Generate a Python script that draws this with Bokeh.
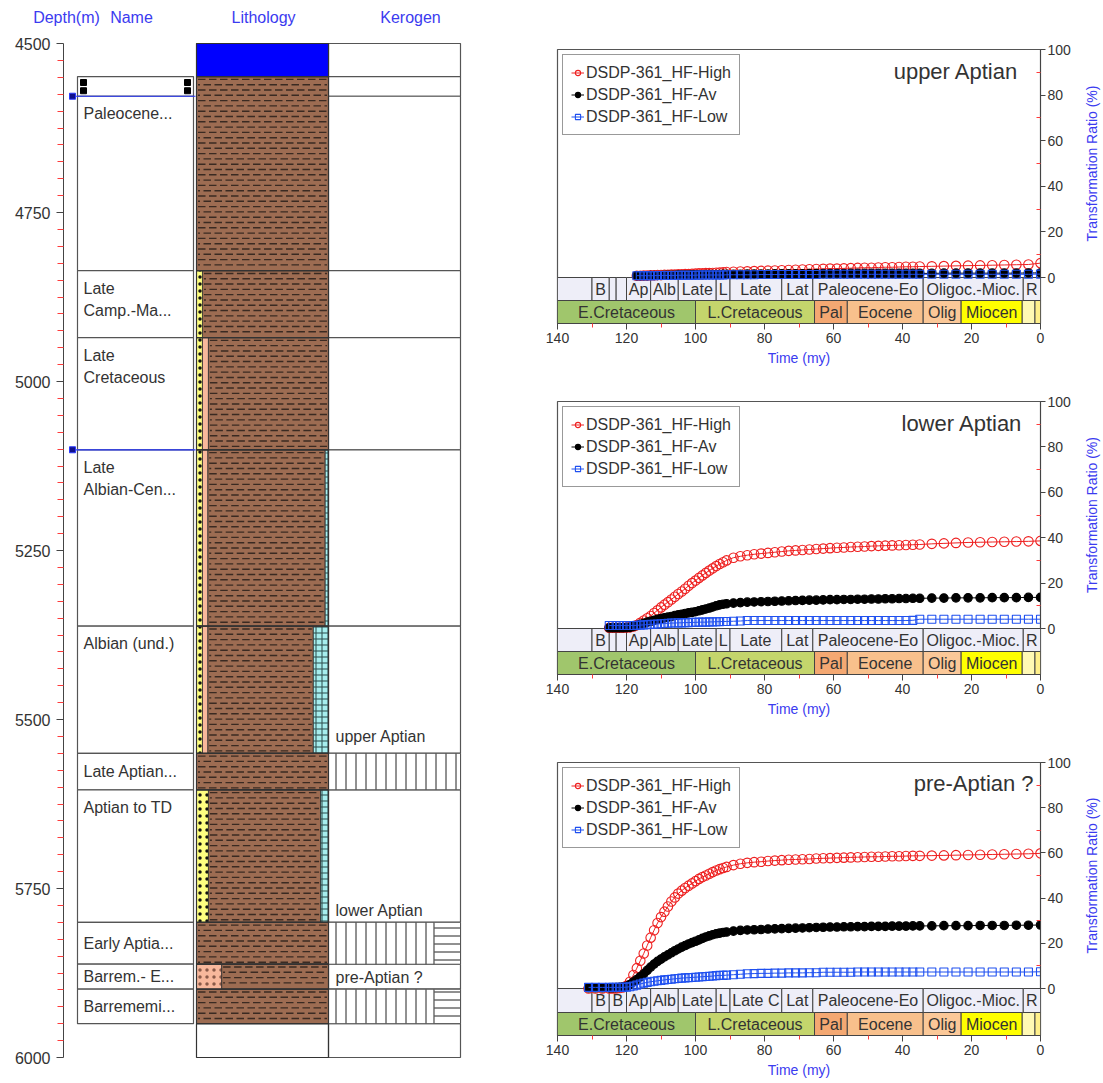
from bokeh.plotting import figure
from bokeh.models import Range1d, FixedTicker, Label, Legend, LegendItem, ColumnDataSource
from bokeh.layouts import row, column
from bokeh.embed import file_html
from bokeh.resources import INLINE
from bokeh.core.properties import value

FONT = "Liberation Sans"
INK = "#333333"
HEAD_BLUE = "#3b3bf0"
TICK_RED = "#ff3b3b"
EDGE = "#555555"

# ---------------- well section (depth in m) ----------------
DEPTH_TICKS = [4500, 4750, 5000, 5250, 5500, 5750, 6000]
HEADERS = ["Depth(m)", "Name", "Lithology", "Kerogen"]

name_top = [4549, 4578, 4836, 4935, 5101, 5362, 5550, 5604, 5800, 5862, 5899]
name_base = [4578, 4836, 4935, 5101, 5362, 5550, 5604, 5800, 5862, 5899, 5950]
name_text = ["", "Paleocene...", "Late\nCamp.-Ma...", "Late\nCretaceous",
             "Late\nAlbian-Cen...", "Albian (und.)", "Late Aptian...", "Aptian to TD",
             "Early Aptia...", "Barrem.- E...", "Barrememi..."]
horizon_depth = [4578, 5101]

lith_top = [4500, 4549, 4836, 4935, 5101, 5362, 5550, 5604, 5800, 5862, 5899, 5950]
lith_base = [4549, 4836, 4935, 5101, 5362, 5550, 5604, 5800, 5862, 5899, 5950, 6000]
lith_mix = [
    [("water", 1.0)],
    [("shale", 1.0)],
    [("sand", 0.045), ("shale", 0.955)],
    [("sand", 0.045), ("silt", 0.045), ("shale", 0.91)],
    [("sand", 0.045), ("silt", 0.04), ("shale", 0.89), ("lime", 0.025)],
    [("sand", 0.045), ("silt", 0.04), ("shale", 0.80), ("lime", 0.115)],
    [("shale", 1.0)],
    [("sand", 0.09), ("shale", 0.85), ("lime", 0.06)],
    [("shale", 1.0)],
    [("siltdot", 0.19), ("shale", 0.81)],
    [("shale", 1.0)],
    [],
]

kerogen_top = [4500, 4549, 4578, 4836, 4935, 5101, 5362, 5550, 5604, 5800, 5862, 5899, 5950]
kerogen_base = [4549, 4578, 4836, 4935, 5101, 5362, 5550, 5604, 5800, 5862, 5899, 5950, 6000]
kerogen_kind = ["", "", "", "", "", "", "", "vert", "", "mixed", "", "mixed", ""]

sample_depth = [5525, 5782, 5881]
sample_name = ["upper Aptian", "lower Aptian", "pre-Aptian ?"]

# ---------------- burial-history results (time in Ma, TR in %) ----------------
TIME = [131, 129, 127,
        125, 124, 123, 122, 121, 120, 119, 118, 117, 116, 115, 114, 113, 112, 111, 110,
        109, 108, 107, 106, 105, 104, 103, 102, 101, 100, 99, 98, 97, 96, 95, 94, 93, 92, 91,
        89, 87, 85, 83, 81, 79, 77, 75, 73, 71, 69, 67, 65, 63, 61, 59, 57, 55, 53, 51,
        49, 47, 45, 43, 41, 39, 37, 35,
        31.5, 28, 24.5, 21, 17.5, 14, 10.5, 7, 3.5, 0]

UP_HIGH = [0.8, 0.8, 0.9, 0.9, 1.0, 1.0, 1.1, 1.1, 1.2, 1.2, 1.3, 1.3, 1.4, 1.4, 1.5, 1.5,
           1.6, 1.7, 1.8, 1.8, 1.9, 1.9, 2.0, 2.1, 2.2, 2.3, 2.4,
           2.5, 2.6, 2.7, 2.8, 2.9, 3.0, 3.1, 3.2, 3.3, 3.4, 3.5, 3.6, 3.7, 3.8, 3.9, 3.9,
           4.0, 4.1, 4.2, 4.3, 4.3, 4.4, 4.5, 4.5, 4.6, 4.7, 4.7, 4.8,
           4.9, 5.0, 5.1, 5.2, 5.3, 5.4, 5.5, 5.6, 5.7, 6.3]
UP_AV = [0.8, 0.8, 0.8, 0.8, 0.9, 0.9, 0.9, 0.9, 1.0, 1.0, 1.0, 1.0, 1.1, 1.1, 1.1, 1.1,
         1.2, 1.2, 1.2, 1.2, 1.3, 1.3, 1.3, 1.3, 1.3, 1.4, 1.4,
         1.4, 1.4, 1.5, 1.5, 1.5, 1.5, 1.6, 1.6, 1.6, 1.6, 1.6, 1.7, 1.7, 1.7, 1.7, 1.7,
         1.7, 1.8, 1.8, 1.8, 1.8, 1.8, 1.8, 1.8, 1.8, 1.8, 1.8, 1.8,
         1.8, 1.9, 1.9, 1.9, 1.9, 1.9, 1.9, 1.9, 2.0, 2.0]
UP_LOW = [0.8, 0.8, 0.8, 0.8, 0.8, 0.8, 0.9, 0.9, 0.9, 0.9, 0.9, 0.9, 1.0, 1.0, 1.0, 1.0,
          1.0, 1.0, 1.1, 1.1, 1.1, 1.1, 1.1, 1.1, 1.1, 1.1, 1.2,
          1.2, 1.2, 1.2, 1.2, 1.3, 1.3, 1.3, 1.3, 1.3, 1.3, 1.3, 1.3, 1.3, 1.4, 1.4, 1.4,
          1.4, 1.4, 1.4, 1.4, 1.4, 1.4, 1.4, 1.4, 1.4, 1.4, 1.4, 1.4,
          1.4, 1.4, 1.4, 1.4, 1.4, 1.4, 1.4, 1.4, 1.4, 1.5]

LOW_HIGH = [0.3, 0.3, 0.3, 0.3, 0.3, 0.4, 0.5, 0.9, 1.5, 2.5, 3.5, 4.5, 5.5, 6.8, 8.0, 9.3,
            10.5, 11.6, 12.8, 14.0, 15.2, 16.3, 17.5, 18.8, 20.0, 21.1, 22.3, 23.4, 24.5,
            25.5, 26.5, 27.5, 28.4, 29.2, 30.0,
            31.2, 31.8, 32.3, 32.7, 33.0, 33.3, 33.6, 33.9, 34.2, 34.4, 34.6, 34.8, 35.0,
            35.2, 35.4, 35.6, 35.7, 35.9, 36.0, 36.1, 36.3, 36.4, 36.5, 36.6, 36.7, 36.8,
            36.9, 37.0,
            37.3, 37.5, 37.7, 37.9, 38.0, 38.1, 38.2, 38.3, 38.4, 38.6]
LOW_AV = [0.3, 0.3, 0.3, 0.3, 0.3, 0.4, 0.5, 0.9, 1.3, 1.8, 2.3, 2.8, 3.2, 3.6, 4.0, 4.4,
          4.7, 5.0, 5.3, 5.7, 6.0, 6.3, 6.6, 6.9, 7.1, 7.4, 7.8, 8.2, 8.6, 9.0, 9.5, 10.0,
          10.4, 10.7, 10.9,
          11.2, 11.4, 11.6, 11.7, 11.8, 11.9, 12.0, 12.1, 12.2, 12.3, 12.4, 12.5, 12.5,
          12.6, 12.7, 12.7, 12.8, 12.8, 12.9, 12.9, 13.0, 13.0, 13.1, 13.1, 13.2, 13.2,
          13.3, 13.3,
          13.4, 13.4, 13.5, 13.5, 13.5, 13.6, 13.6, 13.6, 13.7, 13.7]
LOW_LOW = [1.3, 1.3, 1.3, 1.3, 1.3, 1.3, 1.3, 1.3, 1.4, 1.5, 1.6, 1.7, 1.8, 1.9, 2.0, 2.1,
           2.2, 2.3, 2.4, 2.4, 2.5, 2.5, 2.6, 2.6, 2.7, 2.7, 2.8, 2.8, 2.8, 2.9, 2.9, 3.0,
           3.0, 3.1, 3.1,
           3.2, 3.3, 3.5, 3.5, 3.5, 3.5, 3.5, 3.5, 3.5, 3.5, 3.5, 3.5, 3.5, 3.5, 3.5, 3.5,
           3.5, 3.5, 3.5, 3.5, 3.5, 3.5, 3.5, 3.5, 3.5, 3.5, 3.6, 4.1,
           4.1, 4.1, 4.1, 4.1, 4.1, 4.1, 4.1, 4.1, 4.1, 4.1]

PRE_HIGH = [0, 0, 0,
            0, 0, 0, 0.2, 0.5, 1.2, 3.0, 6.0, 9.0, 12.3, 15.5, 19.0, 22.5, 25.8, 29.0, 31.6,
            34.0, 36.3, 38.5, 40.3, 42.0, 43.3, 44.5, 45.5, 46.5, 47.5, 48.5, 49.3, 50.0,
            50.8, 51.5, 52.2, 52.8, 53.3, 53.8,
            54.6, 55.2, 55.6, 55.9, 56.1, 56.4, 56.6, 56.8, 57.0, 57.1, 57.2, 57.3, 57.5,
            57.6, 57.7, 57.8, 57.9, 58.0, 58.1, 58.2, 58.3, 58.3, 58.4, 58.5, 58.5, 58.6,
            58.7, 58.7,
            58.8, 58.9, 59.0, 59.1, 59.2, 59.3, 59.4, 59.5, 59.6, 59.8]
PRE_AV = [0.3, 0.3, 0.3,
          0.3, 0.3, 0.4, 0.5, 0.6, 1.0, 1.8, 2.9, 4.0, 5.2, 6.5, 8.0, 9.5, 10.8, 12.0, 13.0,
          14.0, 14.9, 15.8, 16.7, 17.5, 18.3, 19.0, 19.7, 20.3, 20.9, 21.5, 22.2, 22.8,
          23.3, 23.8, 24.2, 24.5, 24.8, 25.0,
          25.4, 25.7, 25.9, 26.0, 26.1, 26.3, 26.4, 26.5, 26.6, 26.7, 26.8, 26.9, 27.0,
          27.1, 27.2, 27.2, 27.3, 27.3, 27.4, 27.4, 27.5, 27.5, 27.5, 27.6, 27.6, 27.6,
          27.7, 27.7,
          27.7, 27.8, 27.8, 27.8, 27.9, 27.9, 27.9, 28.0, 28.0, 28.1]
PRE_LOW = [0.5, 0.5, 0.5,
           0.5, 0.5, 0.5, 0.5, 0.5, 0.6, 0.8, 1.1, 1.5, 2.0, 2.4, 2.7, 3.0, 3.2, 3.4, 3.6,
           3.8, 4.0, 4.1, 4.3, 4.4, 4.6, 4.7, 4.8, 4.9, 5.0, 5.1, 5.2, 5.3, 5.4, 5.5, 5.7,
           5.8, 5.8, 5.9,
           6.1, 6.3, 6.5, 6.6, 6.7, 6.7, 6.8, 6.8, 6.9, 6.9, 6.9, 7.0, 7.0, 7.2, 7.2, 7.2,
           7.2, 7.2, 7.3, 7.3, 7.3, 7.3, 7.3, 7.3, 7.3, 7.3, 7.3, 7.3,
           7.3, 7.3, 7.3, 7.3, 7.3, 7.3, 7.3, 7.3, 7.3, 7.4]

SERIES_NAMES = ["DSDP-361_HF-High", "DSDP-361_HF-Av", "DSDP-361_HF-Low"]
Y_TITLE = "Transformation Ratio (%)"
X_TITLE = "Time (my)"

# geologic time scale strip (Ma)
STAGE_EDGES_A = [140, 130, 125, 123, 120, 113, 105, 94, 90, 75, 66, 34, 5, 0]
STAGE_NAMES_A = ["", "B", "", "", "Ap", "Alb", "Late", "L", "Late", "Lat",
                 "Paleocene-Eo", "Oligoc.-Mioc.", "R"]
STAGE_EDGES_B = [140, 130, 125, 120, 113, 105, 94, 90, 75, 66, 34, 5, 0]
STAGE_NAMES_B = ["", "B", "B", "Ap", "Alb", "Late", "L", "Late C", "Lat",
                 "Paleocene-Eo", "Oligoc.-Mioc.", "R"]
EPOCH_EDGES = [140, 100, 65.5, 56, 34, 23, 5.3, 1.6, 0]
EPOCH_NAMES = ["E.Cretaceous", "L.Cretaceous", "Pal", "Eocene", "Olig", "Miocen", "", ""]
EPOCH_COLORS = ["#a0c66c", "#c4d56c", "#f4a872", "#f8c08c", "#fbc898", "#ffff00",
                "#fff9b4", "#fff08a"]

# ======================= well column =======================
PX_PER_M = 0.676
TOP_PX = 43          # screen row of 4500 m
HEAD_H = 35          # header strip height
CANVAS_H = 1083
LEFT_W = 520


def depth_at(ypx):
    return 4500 + (ypx - TOP_PX) / PX_PER_M


def no_frame_align(fig):
    try:
        fig.frame_align = False
    except Exception:
        pass


X_NAME = (77, 193)
X_LITH = (196, 328)
X_KER = (328, 460)

# header strip
head = figure(width=LEFT_W, height=HEAD_H, x_range=Range1d(0, LEFT_W),
              y_range=Range1d(HEAD_H, 0), x_axis_type=None, y_axis_type=None,
              toolbar_location=None, output_backend="svg", min_border=0)
no_frame_align(head)
head.outline_line_color = None
head.grid.visible = False
head.text(x=[66, 131, 263, 410], y=17, text=HEADERS, text_align="center",
          text_baseline="middle", text_font=value(FONT), text_font_size="16px",
          text_color=HEAD_BLUE)

well = figure(width=LEFT_W, height=CANVAS_H - HEAD_H, x_range=Range1d(63, 462),
              y_range=Range1d(depth_at(CANVAS_H), depth_at(HEAD_H)), x_axis_type=None,
              toolbar_location=None, output_backend="svg",
              min_border_left=63, min_border_right=58, min_border_top=0, min_border_bottom=0)
no_frame_align(well)
well.outline_line_color = None
well.grid.visible = False

ax = well.yaxis[0]
ax.ticker = FixedTicker(ticks=DEPTH_TICKS,
                        minor_ticks=[d for d in range(4500, 6001, 25) if d % 250])
ax.bounds = (4500, 6000)
ax.axis_line_color = "#444444"
ax.major_tick_line_color = "#444444"
ax.major_tick_out = 7
ax.major_tick_in = 0
ax.minor_tick_line_color = TICK_RED
ax.minor_tick_out = 6
ax.minor_tick_in = 0
ax.major_label_text_font = FONT
ax.major_label_text_font_size = "16px"
ax.major_label_text_color = INK
ax.major_label_standoff = 6

# name column
well.quad(left=X_NAME[0], right=X_NAME[1], top=name_top, bottom=name_base,
          fill_color="white", line_color=EDGE, line_width=1.2)
nx, ny, nt, nb = [], [], [], []
for t, b, s in zip(name_top, name_base, name_text):
    if not s:
        continue
    if (b - t) * PX_PER_M < 60:
        ny.append((t + b) / 2)
        nb.append("middle")
    else:
        ny.append(t + 9 / PX_PER_M)
        nb.append("top")
    nx.append(X_NAME[0] + 6)
    nt.append(s)
well.text(x=nx, y=ny, text=nt, text_baseline=nb, text_align="left",
          text_font=value(FONT), text_font_size="16px", text_color=INK, text_line_height=1.3)

# small handles in the first name cell
h_top, h_base = name_top[0], name_base[0]
hy = [h_top + 0.3 * (h_base - h_top), h_top + 0.72 * (h_base - h_top)]
well.scatter(x=[X_NAME[0] + 6] * 2 + [X_NAME[1] - 6] * 2, y=hy + hy, marker="square",
             size=6, fill_color="black", line_color="black")

# picked horizons
well.segment(x0=X_NAME[0] - 4, x1=X_LITH[0] - 1, y0=horizon_depth, y1=horizon_depth,
             line_color="#2a3aff", line_width=1.2)
well.scatter(x=[X_NAME[0] - 5] * len(horizon_depth), y=horizon_depth, marker="square",
             size=6, fill_color="#10108a", line_color="#2a3aff")

# kerogen column
well.quad(left=X_KER[0], right=X_KER[1], top=kerogen_top, bottom=kerogen_base,
          fill_color="white", line_color=EDGE, line_width=1.2)
split_x = X_KER[0] + 0.8 * (X_KER[1] - X_KER[0])
vt, vb, vr, ht, hb = [], [], [], [], []
for t, b, k in zip(kerogen_top, kerogen_base, kerogen_kind):
    if k == "vert":
        vt.append(t); vb.append(b); vr.append(X_KER[1])
    elif k == "mixed":
        vt.append(t); vb.append(b); vr.append(split_x)
        ht.append(t); hb.append(b)
well.quad(left=X_KER[0], right=vr, top=vt, bottom=vb, fill_color="white", line_color=EDGE,
          hatch_pattern="|", hatch_color="#222222", hatch_scale=10, hatch_weight=1)
well.quad(left=split_x, right=X_KER[1], top=ht, bottom=hb, fill_color="white",
          line_color=EDGE, hatch_pattern="-", hatch_color="#222222", hatch_scale=8,
          hatch_weight=1)
well.text(x=[X_KER[0] + 7] * 3, y=sample_depth, text=sample_name, text_baseline="middle",
          text_align="left", text_font=value(FONT), text_font_size="16px", text_color=INK)

# lithology column
LITH_STYLE = {
    "water": dict(fill_color="#0000ff"),
    "shale": dict(fill_color="#9d6c52"),
    "sand": dict(fill_color="#ffff80", hatch_pattern=".", hatch_color="#111111",
                 hatch_scale=7, hatch_weight=1),
    "silt": dict(fill_color="#f8b89c"),
    "siltdot": dict(fill_color="#f8b89c", hatch_pattern=".", hatch_color="#8a5a48",
                    hatch_scale=7, hatch_weight=1),
    "lime": dict(fill_color="#a6eeee", hatch_pattern="+", hatch_color="#2a4a4a",
                 hatch_scale=6, hatch_weight=1),
}
pieces = {k: dict(left=[], right=[], top=[], bottom=[]) for k in LITH_STYLE}
lith_w = X_LITH[1] - X_LITH[0]
for t, b, mix in zip(lith_top, lith_base, lith_mix):
    x0 = X_LITH[0]
    for kind, frac in mix:
        x1 = x0 + frac * lith_w
        d = pieces[kind]
        d["left"].append(x0); d["right"].append(x1); d["top"].append(t); d["bottom"].append(b)
        x0 = x1
for kind, d in pieces.items():
    if d["left"]:
        well.quad(source=ColumnDataSource(d), left="left", right="right", top="top",
                  bottom="bottom", line_color="#2a2a2a", line_width=0.8, **LITH_STYLE[kind])

# shale symbol: staggered rows of short dashes (sizes in screen px)
ROW_PX, DASH_PX, PERIOD_PX = 5.3, 7.5, 11.0
dx0, dx1, dy = [], [], []
sh = pieces["shale"]
for l, r, t, b in zip(sh["left"], sh["right"], sh["top"], sh["bottom"]):
    k = 0
    ypx = 2.8
    while ypx < (b - t) * PX_PER_M - 1.5:
        xs = l + 1.5 - (k % 2) * PERIOD_PX / 2
        while xs < r - 1.5:
            xa, xb = max(xs, l + 1.5), min(xs + DASH_PX, r - 1.5)
            if xb - xa > 1.5:
                dx0.append(xa); dx1.append(xb); dy.append(t + ypx / PX_PER_M)
            xs += PERIOD_PX
        ypx += ROW_PX
        k += 1
well.segment(x0=dx0, x1=dx1, y0=dy, y1=dy, line_color="#3a2a22", line_width=1.4)

well.quad(left=X_LITH[0], right=X_LITH[1], top=lith_top, bottom=lith_base,
          fill_color=None, line_color="#333333", line_width=1.2)

# ======================= transformation-ratio charts =======================
STYLES = [
    dict(color="#ee2020", marker="circle", fill=None, size=9.5),
    dict(color="#000000", marker="circle", fill="#000000", size=8.5),
    dict(color="#1f50f0", marker="square", fill=None, size=8),
]
CHART_W = 559
SIDE_W = 24


def make_chart(title, values, stage_edges, stage_names, height, top_pad, plot_px,
               strip_px, title_x):
    ppu = plot_px / 100.0
    r1 = strip_px[0] / ppu
    r2 = strip_px[1] / ppu
    frame_h = plot_px + strip_px[0] + strip_px[1]
    p = figure(width=CHART_W, height=height, x_range=Range1d(140, 0),
               y_range=Range1d(-(r1 + r2), 100), y_axis_location="right",
               toolbar_location=None, output_backend="svg",
               min_border_left=37, min_border_right=39, min_border_top=top_pad,
               min_border_bottom=height - top_pad - frame_h)
    no_frame_align(p)
    p.grid.visible = False
    p.outline_line_color = EDGE
    p.outline_line_width = 1.2

    # time-scale strip
    p.quad(left=stage_edges[:-1], right=stage_edges[1:], top=0, bottom=-r1,
           fill_color="#eeeef8", line_color="#444444", line_width=1)
    p.text(x=[(a + b) / 2 for a, b in zip(stage_edges[:-1], stage_edges[1:])],
           y=-r1 / 2, text=stage_names, text_align="center", text_baseline="middle",
           text_font=value(FONT), text_font_size="16px", text_color=INK)
    p.quad(left=EPOCH_EDGES[:-1], right=EPOCH_EDGES[1:], top=-r1, bottom=-(r1 + r2),
           fill_color=EPOCH_COLORS, line_color="#444444", line_width=1)
    p.text(x=[(a + b) / 2 for a, b in zip(EPOCH_EDGES[:-1], EPOCH_EDGES[1:])],
           y=-r1 - r2 / 2, text=EPOCH_NAMES, text_align="center", text_baseline="middle",
           text_font=value(FONT), text_font_size="16px", text_color=INK)

    items = []
    for name, vals, st in zip(SERIES_NAMES, values, STYLES):
        t = TIME[-len(vals):]
        lr = p.line(t, vals, line_color=st["color"], line_width=1)
        sr = p.scatter(t, vals, marker=st["marker"], size=st["size"],
                       line_color=st["color"], fill_color=st["fill"], line_width=1.1)
        items.append(LegendItem(label=name, renderers=[lr, sr]))
    leg = Legend(items=items, location="top_left", margin=5, padding=8, spacing=3,
                 label_text_font=FONT, label_text_font_size="16px", label_text_color=INK,
                 glyph_width=13, glyph_height=19, label_height=19, label_standoff=2,
                 border_line_color="#333333", border_line_width=1.5,
                 background_fill_color="white", background_fill_alpha=1)
    p.add_layout(leg)

    p.add_layout(Label(x=title_x, y=90.5, text=title, text_align="right",
                       text_baseline="middle", text_font=FONT, text_font_size="22px",
                       text_color=INK))

    ya = p.yaxis[0]
    ya.ticker = FixedTicker(ticks=[0, 20, 40, 60, 80, 100], minor_ticks=[10, 30, 50, 70, 90])
    ya.bounds = (0, 100)
    ya.axis_line_color = "#444444"
    ya.major_tick_line_color = "#444444"
    ya.major_tick_out = 5
    ya.major_tick_in = 0
    ya.minor_tick_line_color = TICK_RED
    ya.minor_tick_out = 0
    ya.minor_tick_in = 4
    ya.major_label_text_font = FONT
    ya.major_label_text_font_size = "14px"
    ya.major_label_text_color = INK
    ya.major_label_standoff = 2

    xa = p.xaxis[0]
    xa.ticker = FixedTicker(ticks=[140, 120, 100, 80, 60, 40, 20, 0],
                            minor_ticks=[130, 110, 90, 70, 50, 30, 10])
    xa.axis_line_color = "#444444"
    xa.major_tick_line_color = "#444444"
    xa.major_tick_out = 6
    xa.major_tick_in = 0
    xa.minor_tick_line_color = TICK_RED
    xa.minor_tick_out = 4
    xa.minor_tick_in = 0
    xa.major_label_text_font = FONT
    xa.major_label_text_font_size = "14px"
    xa.major_label_text_color = INK
    xa.major_label_standoff = 3
    xa.axis_label = X_TITLE
    xa.axis_label_text_font = FONT
    xa.axis_label_text_font_size = "14px"
    xa.axis_label_text_font_style = "normal"
    xa.axis_label_text_color = HEAD_BLUE
    xa.axis_label_standoff = 4

    # narrow companion panel carrying the vertical y title, centred on 0..100
    side = figure(width=SIDE_W, height=height, x_range=Range1d(0, 1),
                  y_range=Range1d(0, 100), x_axis_type=None, toolbar_location=None,
                  output_backend="svg", min_border_left=SIDE_W - 2, min_border_right=0,
                  min_border_top=top_pad, min_border_bottom=height - top_pad - plot_px)
    no_frame_align(side)
    side.outline_line_color = None
    side.grid.visible = False
    sa = side.yaxis[0]
    sa.ticker = FixedTicker(ticks=[])
    sa.axis_line_color = None
    sa.major_tick_line_color = None
    sa.minor_tick_line_color = None
    sa.axis_label = Y_TITLE
    sa.axis_label_text_font = FONT
    sa.axis_label_text_font_size = "14px"
    sa.axis_label_text_font_style = "normal"
    sa.axis_label_text_color = HEAD_BLUE
    sa.axis_label_standoff = 2
    return row(p, side, spacing=0)


c1 = make_chart("upper Aptian", [UP_HIGH, UP_AV, UP_LOW], STAGE_EDGES_A, STAGE_NAMES_A,
                height=380, top_pad=49, plot_px=228, strip_px=(23, 23), title_x=6.4)
c2 = make_chart("lower Aptian", [LOW_HIGH, LOW_AV, LOW_LOW], STAGE_EDGES_A, STAGE_NAMES_A,
                height=360, top_pad=21, plot_px=227, strip_px=(23, 23), title_x=5.2)
c3 = make_chart("pre-Aptian ?", [PRE_HIGH, PRE_AV, PRE_LOW], STAGE_EDGES_B, STAGE_NAMES_B,
                height=343, top_pad=22, plot_px=226, strip_px=(24, 23), title_x=2.0)

layout = row(column(head, well, spacing=0), column(c1, c2, c3, spacing=0), spacing=0)
open("out.html", "w").write(file_html(layout, INLINE))
